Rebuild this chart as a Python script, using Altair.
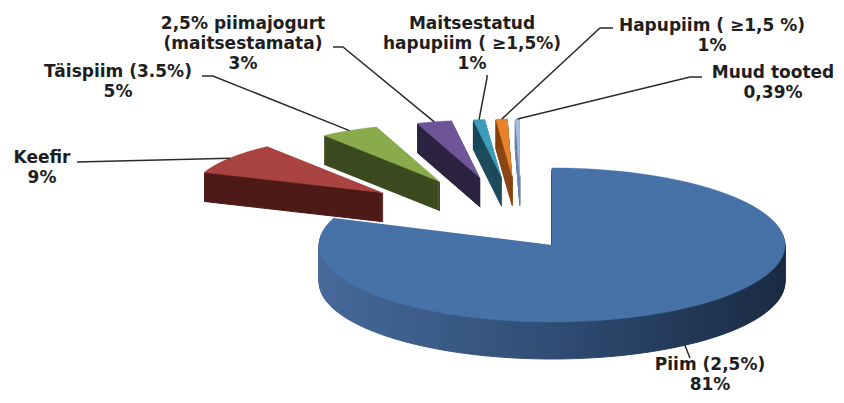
import altair as alt
import pandas as pd

# ---------------- data ----------------
CATEGORIES = [
    "Piim (2,5%)",
    "Keefir",
    "Täispiim (3.5%)",
    "2,5% piimajogurt\n(maitsestamata)",
    "Maitsestatud\nhapupiim ( ≥1,5%)",
    "Hapupiim ( ≥1,5 %)",
    "Muud tooted",
]
VALUES = [81, 9, 5, 3, 1, 1, 0.39]
PCT_LABELS = ["81%", "9%", "5%", "3%", "1%", "1%", "0,39%"]

# ---------------- styles ----------------
TOP_COLORS = ["#4672a8", "#a8433f", "#8aab4c", "#6f5597", "#3b9cbc", "#e8822a", "#a6bde0"]
SIDE_COLORS = ["#2f4d75", "#4d1a18", "#3b4a1f", "#2c2340", "#1e4c5c", "#8a4614", "#6a84b0"]

# ---------------- layout (page pixels) ----------------
W, H = 828, 387
BIG_C = (552, 245)        # centre of the large slice
SMALL_C = (522, 216)      # centre from which the small slices are exploded
EXPLODE = (173, 39)
RX_BIG, RY_BIG, DEPTH_BIG = 233, 77, 37
RX_SMALL, RY_SMALL, DEPTH_SMALL = 191, 58, 29
N = 90
# text centre x, first line centre y, leader start x/y, elbow x/y
LABEL_POS = [
    (710, 364, 690, 358, 690, 358),
    (42, 157, 77, 162, 77, 162),
    (118, 71, 202, 76, 213, 76),
    (243, 23, 333, 47, 343, 47),
    (472, 23, 487, 75, 487, 78),
    (712, 25, 613, 28, 600, 28),
    (773, 72, 702, 77, 690, 77),
]

df = pd.DataFrame({
    "idx": list(range(len(CATEGORIES))),
    "cat": CATEGORIES,
    "value": VALUES,
    "label": [c + "\n" + p for c, p in zip(CATEGORIES, PCT_LABELS)],
    "tx": [p[0] for p in LABEL_POS],
    "ty": [p[1] for p in LABEL_POS],
    "sx": [p[2] for p in LABEL_POS],
    "sy": [p[3] for p in LABEL_POS],
    "ex": [p[4] for p in LABEL_POS],
    "ey": [p[5] for p in LABEL_POS],
})

xs = alt.Scale(domain=[8, 8 + W], nice=False, zero=False)
ys = alt.Scale(domain=[8, 8 + H], nice=False, zero=False, reverse=True)


def geom(ch):
    return (
        ch.transform_joinaggregate(total="sum(value)", vmax="max(value)")
        .transform_window(cum="sum(value)", sort=[alt.SortField("idx")], frame=[None, 0])
        .transform_calculate(
            a0="2*PI*(datum.cum-datum.value)/datum.total",
            a1="2*PI*datum.cum/datum.total",
            big="datum.value == datum.vmax ? 1 : 0",
        )
        .transform_calculate(mid="(datum.a0+datum.a1)/2")
        .transform_calculate(
            cx=f"datum.big ? {BIG_C[0]} : {SMALL_C[0]} + {EXPLODE[0]}*sin(datum.mid)",
            cy=f"datum.big ? {BIG_C[1]} : {SMALL_C[1]} - {EXPLODE[1]}*cos(datum.mid)",
            rx=f"datum.big ? {RX_BIG} : {RX_SMALL}",
            ry=f"datum.big ? {RY_BIG} : {RY_SMALL}",
            depth=f"datum.big ? {DEPTH_BIG} : {DEPTH_SMALL}",
        )
    )


def polygon(ch):
    return (
        geom(ch)
        .transform_calculate(pts=f"sequence(0, {N + 2})")
        .transform_flatten(["pts"], as_=["i"])
        .transform_calculate(ang=f"datum.a0 + (datum.a1-datum.a0)*(datum.i-1)/{N}")
        .transform_calculate(
            px="datum.i == 0 ? datum.cx : datum.cx + datum.rx*sin(datum.ang)",
            py="datum.i == 0 ? datum.cy : datum.cy - datum.ry*cos(datum.ang)",
        )
    )


def extruded(ch):
    return (
        polygon(ch)
        .transform_calculate(ds="sequence(1, datum.depth + 1)")
        .transform_flatten(["ds"], as_=["d"])
        .transform_calculate(py="datum.py + datum.d")
    )


base = alt.Chart(df)
fill_side = alt.Fill("cat:N", scale=alt.Scale(domain=CATEGORIES, range=SIDE_COLORS), legend=None)
stroke_side = alt.Stroke("cat:N", scale=alt.Scale(domain=CATEGORIES, range=SIDE_COLORS), legend=None)
fill_top = alt.Fill("cat:N", scale=alt.Scale(domain=CATEGORIES, range=TOP_COLORS), legend=None)
stroke_top = alt.Stroke("cat:N", scale=alt.Scale(domain=CATEGORIES, range=TOP_COLORS), legend=None)

X = alt.X("px:Q", scale=xs, axis=None)
Y = alt.Y("py:Q", scale=ys, axis=None)

small_side = extruded(base).transform_filter("datum.big == 0").mark_line(strokeWidth=1).encode(
    x=X, y=Y, fill=fill_side, stroke=stroke_side,
    detail=["cat:N", "d:Q"], order="i:Q",
)
small_top = polygon(base).transform_filter("datum.big == 0").mark_line(strokeWidth=0.5).encode(
    x=X, y=Y, fill=fill_top, stroke=stroke_top, detail="cat:N", order="i:Q",
)

side_grad = alt.Gradient(
    gradient="linear",
    stops=[
        alt.GradientStop(color="#46699a", offset=0),
        alt.GradientStop(color="#2f4d75", offset=0.5),
        alt.GradientStop(color="#1a2a42", offset=1),
    ],
    x1=0, x2=1, y1=0, y2=0,
)
big_side = extruded(base).transform_filter("datum.big == 1").mark_line(
    fill=side_grad, stroke=side_grad, strokeWidth=1
).encode(x=X, y=Y, detail="d:Q", order="i:Q")
big_top = polygon(base).transform_filter("datum.big == 1").mark_line(
    fill=TOP_COLORS[0], stroke=TOP_COLORS[0], strokeWidth=0.5
).encode(x=X, y=Y, order="i:Q")

leaders = (
    geom(base)
    .transform_calculate(pts="sequence(0, 3)")
    .transform_flatten(["pts"], as_=["i"])
    .transform_calculate(
        px="datum.i == 0 ? datum.sx : datum.i == 1 ? datum.ex : datum.cx + datum.rx*sin(datum.mid)",
        py="datum.i == 0 ? datum.sy : datum.i == 1 ? datum.ey : datum.cy - datum.ry*cos(datum.mid) + (datum.big ? datum.depth : 0)",
    )
    .mark_line(color="#2b2b2b", strokeWidth=1.5)
    .encode(x=X, y=Y, detail="cat:N", order="i:Q")
)

labels = (
    base.transform_calculate(px="datum.tx", py="datum.ty - 7.5")
    .mark_text(
        align="center", baseline="top", lineBreak="\n", lineHeight=20,
        font="DejaVu Sans", fontWeight="bold", fontSize=17, color="#1e1e1e",
    )
    .encode(x=X, y=Y, text="label:N")
)

chart = (
    alt.layer(small_side, small_top, big_side, big_top, leaders, labels)
    .resolve_scale(fill="independent", stroke="independent")
    .properties(width=W, height=H, padding=0, autosize=alt.AutoSizeParams(type="none"))
    .configure_view(stroke=None)
)

chart.save("out.html", embed_options={"renderer": "svg", "actions": False})
